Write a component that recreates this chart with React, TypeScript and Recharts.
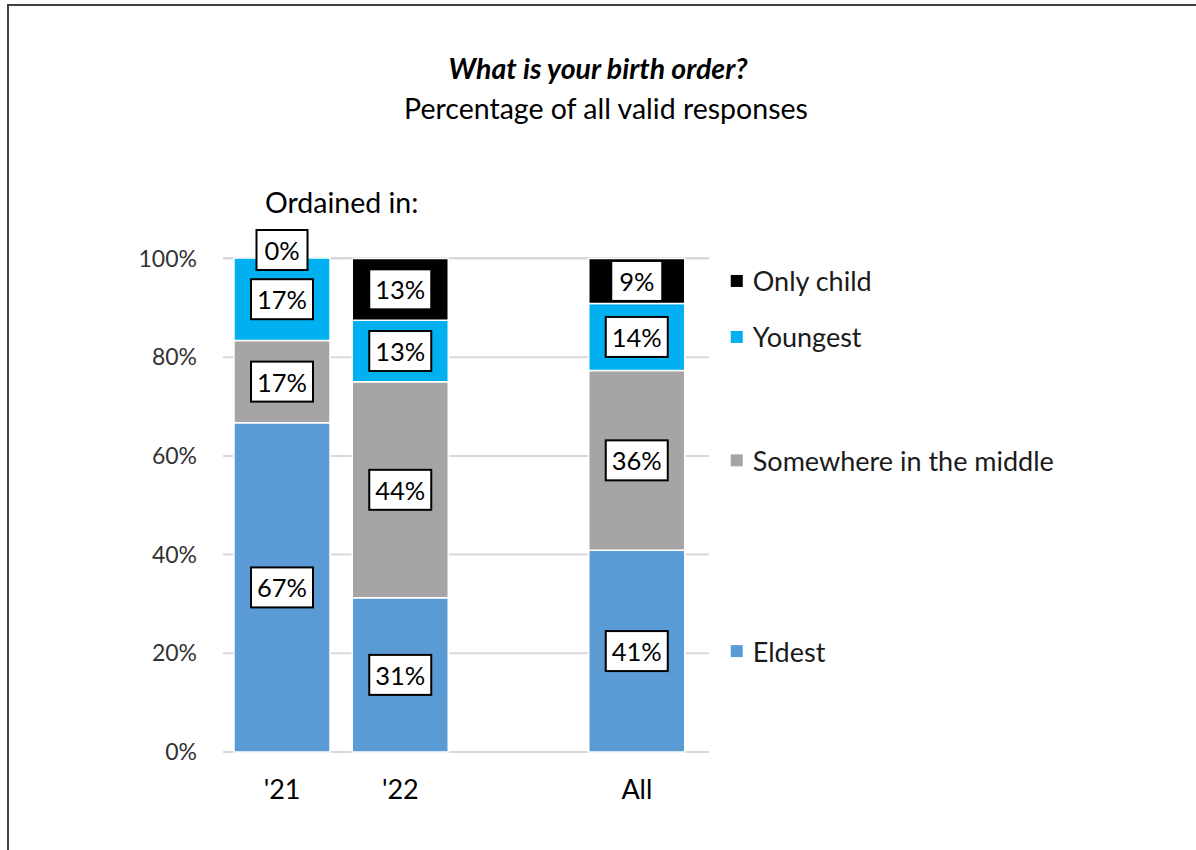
import { BarChart, Bar, XAxis, YAxis, CartesianGrid, LabelList } from 'recharts';

const categories = ["'21", "'22", '', 'All'];
const eldest = [66.7, 31.25, null, 40.9];
const middle = [16.7, 43.75, null, 36.4];
const youngest = [16.7, 12.5, null, 13.6];
const onlyChild = [0, 12.5, null, 9.1];
const yTicks = [0, 20, 40, 60, 80, 100];

const FONT = 'Lato, "Open Sans", sans-serif';
const FS = 28.5; // titles
const FS_LEG = 27; // series names
const FS_VAL = 25.5; // data labels

const series = [
    { key: 'eldest', name: 'Eldest', color: '#5B9BD5', values: eldest },
    { key: 'middle', name: 'Somewhere in the middle', color: '#A5A5A5', values: middle },
    { key: 'youngest', name: 'Youngest', color: '#00B0F0', values: youngest },
    { key: 'onlyChild', name: 'Only child', color: '#000000', values: onlyChild },
];

const data = categories.map((cat, i) => {
    const row: any = { cat };
    series.forEach((s) => {
        row[s.key] = s.values[i];
    });
    return row;
});

const Box = ({ cx, cy, value }: { cx: number; cy: number; value: number }) => {
    const text = `${Math.round(value)}%`;
    const w = text.length > 2 ? 62 : 51;
    const h = 40;
    return (
        <g>
            <rect x={cx - w / 2} y={cy - h / 2} width={w} height={h} fill="#fff" stroke="#000" strokeWidth={2} />
            <text x={cx} y={cy} textAnchor="middle" dominantBaseline="central" fontFamily={FONT} fontSize={FS_VAL} fill="#000">
                {text}
            </text>
        </g>
    );
};

// white box with black border, centred in the segment
const ValueLabel = (props: any) => {
    const { x, y, width, height, value } = props;
    if (value == null || !height) return null;
    return <Box cx={x + width / 2} cy={y + height / 2} value={value} />;
};

// per-category extras: series name right of the last bar, and a 0% box
// for a zero-height segment sitting on top of this one
const makeCatLabel = (si: number) => (props: any) => {
    const { x, y, width, height, value } = props;
    const ci = categories.indexOf(value);
    if (ci < 0) return null;
    const s = series[si];
    const next = series[si + 1];
    const out: any[] = [];
    if (s.values[ci] != null && next && next.values[ci] === 0) {
        out.push(<Box key="zero" cx={x + width / 2} cy={y - 8} value={0} />);
    }
    if (ci === categories.length - 1) {
        const cy = y + height / 2;
        const mx = x + width + 46;
        out.push(
            <g key="name">
                <rect x={mx} y={cy - 6} width={12} height={12} fill={s.color} />
                <text x={mx + 22} y={cy} dominantBaseline="central" fontFamily={FONT} fontSize={FS_LEG} fill="#1a1a1a">
                    {s.name}
                </text>
            </g>
        );
    }
    return <g>{out}</g>;
};

export default function App() {
    return (
        <div style={{ position: 'fixed', inset: 0, overflow: 'hidden', background: '#fff' }}>
            <div
                style={{
                    position: 'absolute',
                    left: 7,
                    top: 4,
                    width: 1300,
                    height: 1000,
                    border: '2px solid #404040',
                }}
            />
            <div style={{ position: 'absolute', left: 0, top: 0 }}>
                <BarChart
                    width={1196}
                    height={850}
                    data={data}
                    margin={{ top: 258, right: 487, bottom: 48, left: 123 }}
                >
                    <text x={598} y={68} textAnchor="middle" dominantBaseline="central" fontFamily={FONT} fontSize={FS} fontWeight="bold" fontStyle="italic" fill="#000">
                        What is your birth order?
                    </text>
                    <text x={606} y={108} textAnchor="middle" dominantBaseline="central" fontFamily={FONT} fontSize={FS} fill="#000">
                        Percentage of all valid responses
                    </text>
                    <text x={265} y={202} dominantBaseline="central" fontFamily={FONT} fontSize={FS} fill="#000">
                        Ordained in:
                    </text>
                    <CartesianGrid vertical={false} stroke="#D9D9D9" strokeWidth={2} />
                    <XAxis
                        dataKey="cat"
                        height={50}
                        axisLine={false}
                        tickLine={false}
                        tickSize={0}
                        tickMargin={28}
                        padding={{ left: 0, right: 13 }}
                        tick={{ fill: '#000', fontSize: 27, fontFamily: FONT }}
                    />
                    <YAxis
                        width={100}
                        domain={[0, 100]}
                        ticks={yTicks}
                        axisLine={false}
                        tickLine={false}
                        tickSize={0}
                        tickMargin={26}
                        tickFormatter={(v) => `${v}%`}
                        tick={{ fill: '#333', fontSize: 23, fontFamily: FONT }}
                    />
                    {series.map((s, si) => (
                        <Bar
                            key={s.key}
                            dataKey={s.key}
                            stackId="a"
                            fill={s.color}
                            stroke="#fff"
                            strokeWidth={1.5}
                            barSize={96}
                            isAnimationActive={false}
                        >
                            <LabelList dataKey={s.key} content={ValueLabel} />
                            <LabelList dataKey="cat" content={makeCatLabel(si)} />
                        </Bar>
                    ))}
                </BarChart>
            </div>
        </div>
    );
}
